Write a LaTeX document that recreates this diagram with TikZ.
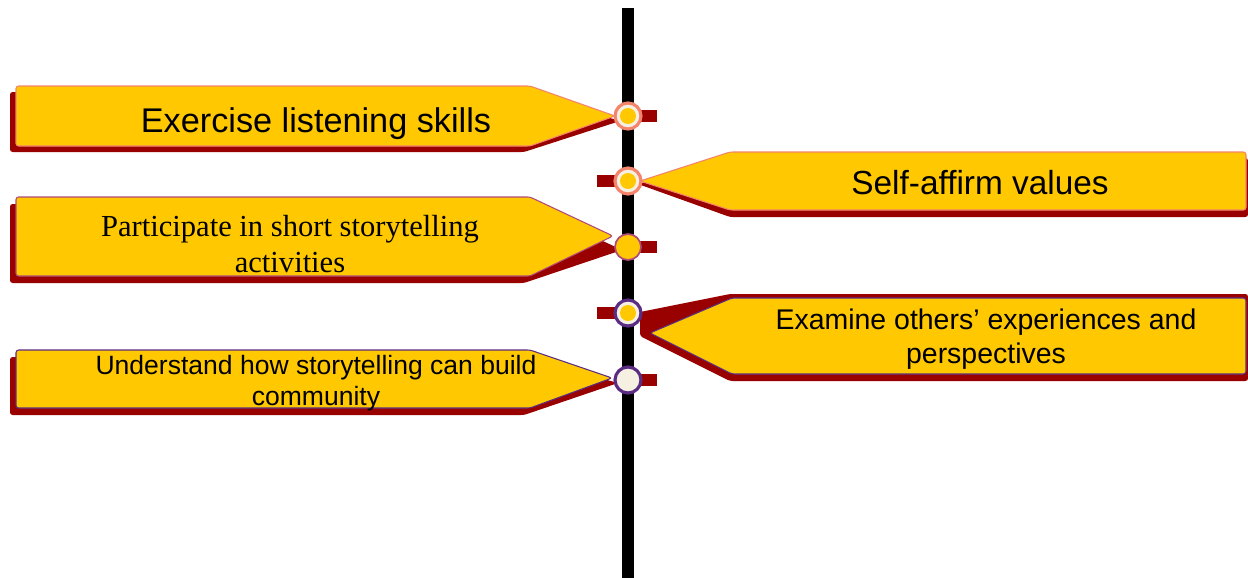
\documentclass[tikz,border=0pt]{standalone}
\usepackage{fontspec}
\setmainfont{Liberation Sans}
\newfontfamily\flagserif{Liberation Serif}
\usepackage{tikz}

\definecolor{flagyellow}{HTML}{FFC800}
\definecolor{flagred}{HTML}{990000}
\definecolor{salmon}{HTML}{F4846C}
\definecolor{plum}{HTML}{5B2C83}
\definecolor{mauve}{HTML}{B04A78}
\definecolor{cream}{HTML}{F5F0E1}

\tikzset{
  flag/.style={fill=flagyellow, line width=0.6pt, rounded corners=1.5pt},
  flagshade/.style={fill=flagred, rounded corners=1.5pt},
  tick/.style={fill=flagred},
  station/.style={circle, draw=#1, line width=1.8pt, fill=cream,
    minimum size=0.52cm, inner sep=0pt},
  dot/.style={circle, fill=flagyellow, minimum size=0.32cm, inner sep=0pt},
  flagtext/.style={align=center, inner sep=0pt, text=black},
}

\begin{document}
\begin{tikzpicture}[x=0.02cm, y=-0.02cm]
    \useasboundingbox (0,0) rectangle (1248,578);
    % the time line
    \coordinate (top) at (628,8);
    \coordinate (bottom) at (628,578);
    \draw[line width=0.24cm] (top) -- (bottom);
    \foreach \n/\y in {1/116, 2/181, 3/247, 4/313, 5/380}
        \coordinate (p\n) at (628,\y);
    \foreach \n/\dx in {1/29, 2/-31, 3/29, 4/-31, 5/29}
        \fill[tick] (p\n) ++(0,-6) rectangle ++(\dx,12);

    % flags on the left
    \fill[flagshade] (10,92) -- (524,92) -- (620,121) -- (524,152) -- (10,152) -- cycle;
    \draw[flag, draw=salmon] (16,86) -- (530,86) -- (615,116) -- (530,146) -- (16,146) -- cycle;
    \fill[flagshade] (10,204) -- (524,204) -- (622,250) -- (524,283) -- (10,283) -- cycle;
    \draw[flag, draw=mauve] (16,197) -- (530,197) -- (613,236) -- (530,276) -- (16,276) -- cycle;
    \fill[flagshade] (10,357) -- (524,357) -- (618,383) -- (524,415) -- (10,415) -- cycle;
    \draw[flag, draw=plum] (16,350) -- (530,350) -- (612,378) -- (530,408) -- (16,408) -- cycle;

    % flags on the right
    \fill[flagshade] (1248,158) -- (730,158) -- (638,184) -- (730,217) -- (1248,217) -- cycle;
    \draw[flag, draw=salmon] (1246,152) -- (730,152) -- (640,181) -- (730,210) -- (1246,210) -- cycle;
    \fill[flagshade] (1248,294) -- (730,294) -- (640,312) -- (640,336) -- (730,381) -- (1248,381) -- cycle;
    \draw[flag, draw=plum] (1246,298) -- (732,298) -- (650,333) -- (732,374) -- (1246,374) -- cycle;

    % stations
    \node[station=salmon] (s1) at (p1) {};
    \node[dot] (d1) at (s1) {};
    \node[station=salmon] (s2) at (p2) {};
    \node[dot] (d2) at (s2) {};
    \node[station=mauve, fill=flagyellow, line width=1pt] (s3) at (p3) {};
    \node[station=plum] (s4) at (p4) {};
    \node[dot] (d4) at (s4) {};
    \node[station=plum] (s5) at (p5) {};

    % texts
    \node[flagtext, font=\fontsize{19.5}{22}\selectfont] (t1) at (316,124) {Exercise listening skills};
    \node[flagtext, font=\fontsize{19}{22}\selectfont] (t2) at (980,183) {Self-affirm values};
    \node[flagtext, font=\flagserif\fontsize{17.4}{21}\selectfont] (t3) at (290,244)
        {Participate in short storytelling\\activities};
    \node[flagtext, font=\fontsize{16.2}{19.3}\selectfont] (t4) at (986,339)
        {Examine others’ experiences and\\perspectives};
    \node[flagtext, font=\fontsize{15.1}{17.6}\selectfont] (t5) at (316,383)
        {Understand how storytelling can build\\community};
\end{tikzpicture}
\end{document}
